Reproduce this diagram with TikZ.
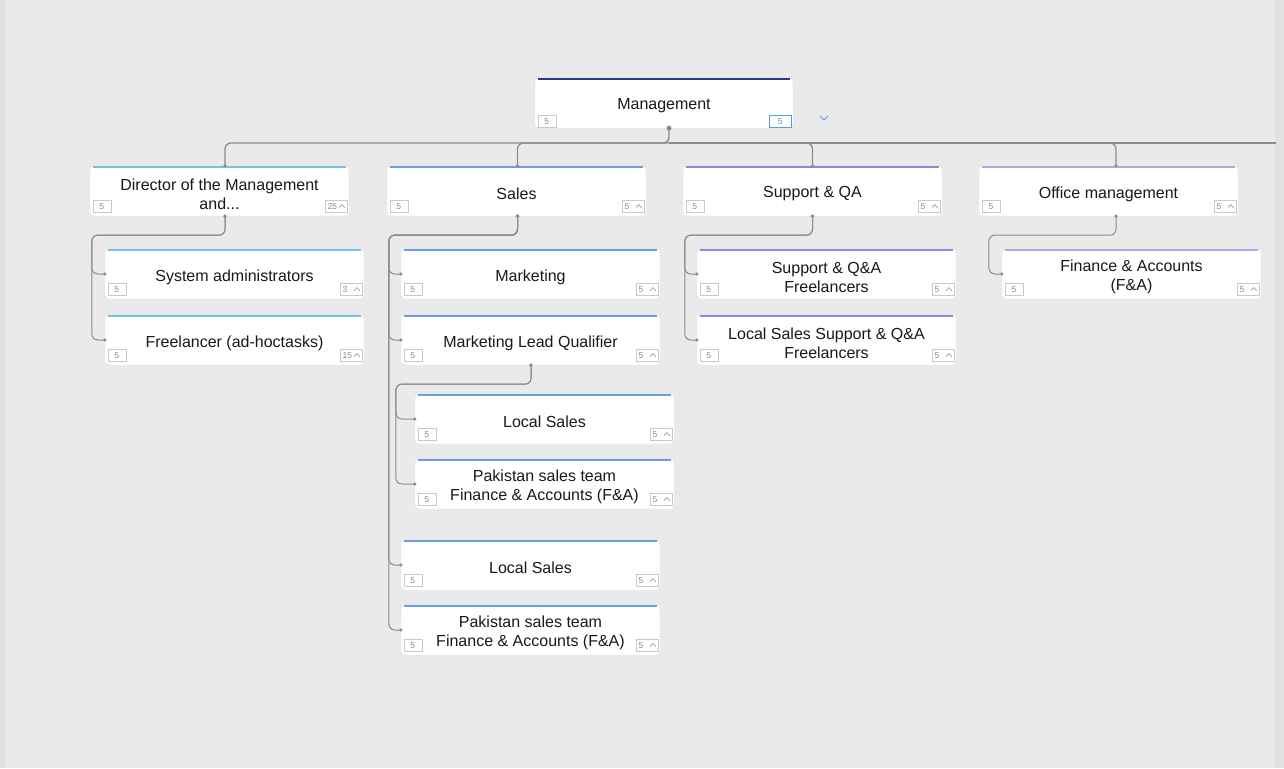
\documentclass[tikz,border=0pt]{standalone}
\usepackage{fontspec}
\setmainfont{Liberation Sans}
\usetikzlibrary{calc}
\definecolor{bg}{HTML}{EAEAEA}
\definecolor{strip}{HTML}{E2E2E2}
\definecolor{navy}{HTML}{2C3A86}
\definecolor{cdir}{HTML}{74C0E8}
\definecolor{csal}{HTML}{6A9FE3}
\definecolor{csup}{HTML}{8F86E0}
\definecolor{coff}{HTML}{B2A8E6}
\definecolor{lgray}{HTML}{8C8C8C}
\definecolor{cntb}{HTML}{C9C9C9}
\definecolor{cntt}{HTML}{8A8A8A}
\definecolor{cblue}{HTML}{5B9BE0}
\tikzset{
  card/.style={fill=white, draw=white!88!black, line width=0.3pt, rounded corners=4pt,
    minimum width=259pt, minimum height=50pt, inner sep=0pt},
  cardtext/.style={inner sep=0pt, align=center,
    font=\fontsize{16}{19}\selectfont, text=black!90},
  cnt/.style={draw=cntb, line width=0.5pt, minimum width=18pt, minimum height=12pt,
    inner sep=0pt, font=\fontsize{8.5}{9}\selectfont, text=cntt},
  cntr/.style={cnt, minimum width=22pt, text width=20pt, align=left},
  conn/.style={draw=lgray, line width=1pt, rounded corners=6pt},
  dotc/.style={fill=lgray},
}
\newcommand{\card}[6]{%
  \node[card] (#1) at ({#2+129.5},{#3+25}) {};
  \node[cardtext] (#1t) at ([yshift=-3pt]#1.center) {#5};
  \draw[#4, line width=2pt] ([xshift=3pt,yshift=-1pt]#1.north west) -- ([xshift=-3pt,yshift=-1pt]#1.north east);
  \node[cnt] (#1l) at ([xshift=12pt,yshift=10pt]#1.south west) {5};
  \node[cntr] (#1r) at ([xshift=-13pt,yshift=10pt]#1.south east) {\hspace{1.5pt}#6};
  \draw[cntt, line width=0.6pt] ([xshift=-8.5pt,yshift=-1.5pt]#1r.east) -- ([xshift=-5.5pt,yshift=1.5pt]#1r.east) -- ([xshift=-2.5pt,yshift=-1.5pt]#1r.east);
}
\newcommand{\dotat}[1]{\fill[dotc] (#1) circle (1.8pt);}
\begin{document}
\begin{tikzpicture}[x=1pt,y=-1pt]
\fill[bg] (0,0) rectangle (1284,768);
\fill[strip] (0,0) rectangle (5,768);
\fill[bg!96!black] (1275,0) rectangle (1284,768);
\useasboundingbox (0,0) rectangle (1284,768);

% Management
\node[card, minimum width=258pt] (mg) at (664,103) {};
\node[cardtext] (mgt) at ([yshift=-3pt]mg.center) {Management};
\draw[navy, line width=2pt] ([xshift=3pt,yshift=-1pt]mg.north west) -- ([xshift=-3pt,yshift=-1pt]mg.north east);
\node[cnt] (mgl) at ([xshift=12pt,yshift=7pt]mg.south west) {5};
\node[cnt, draw=cblue, minimum width=22pt, text=cblue!70!gray] (mgr) at ([xshift=-13pt,yshift=7pt]mg.south east) {5\hspace{10pt}};
\draw[cblue, line width=0.8pt] (820,116) -- (824,120) -- (828,116);

% level 1
\card{dir}{90}{166}{cdir}{Director of the Management\\and...}{25}
\card{sal}{387}{166}{csal}{Sales}{5}
\card{sup}{683}{166}{csup}{Support \& QA}{5}
\card{off}{979}{166}{coff}{Office management}{5}

% level 2
\card{sys}{105}{249}{cdir}{System administrators}{3}
\card{fre}{105}{315}{cdir}{Freelancer (ad-hoctasks)}{15}
\card{mkt}{401}{249}{csal}{Marketing}{5}
\card{mlq}{401}{315}{csal}{Marketing Lead Qualifier}{5}
\card{lsa}{415}{394}{csal}{Local Sales}{5}
\card{pka}{415}{459}{csal}{Pakistan sales team\\Finance \& Accounts (F\&A)}{5}
\card{lsb}{401}{540}{csal}{Local Sales}{5}
\card{pkb}{401}{605}{csal}{Pakistan sales team\\Finance \& Accounts (F\&A)}{5}
\card{sqa}{697}{249}{csup}{Support \& Q\&A\\Freelancers}{5}
\card{lss}{697}{315}{csup}{Local Sales Support \& Q\&A\\Freelancers}{5}
\card{fin}{1002}{249}{coff}{Finance \& Accounts\\(F\&A)}{5}

% connection points
\coordinate (mgB) at ([xshift=5pt]mg.south);
\foreach \n/\s in {dir/5.5, sal/1, sup/0, off/7.5, mlq/0.5} {
  \coordinate (\n T) at ([xshift=\s pt]\n.north);
  \coordinate (\n B) at ([xshift=\s pt]\n.south);
}

% main bus
\coordinate (bus) at (669,143);
\coordinate (busend) at (1276,143);
\draw[conn, line width=1.3pt] (mgB) -- (bus) -| (dirT);
\draw[conn, line width=1.3pt] (bus) -| (salT);
\draw[conn, line width=1.3pt] (bus) -| (supT);
\draw[conn, line width=1.3pt] (bus) -| (offT);
\draw[conn, line width=1.3pt] (bus) -- (busend);
\fill[dotc] (mgB) circle (2.5pt);
\foreach \n in {dir,sal,sup,off} {\dotat{\n T}}

% children connectors
\foreach \p/\c/\o in {dir/sys/13, dir/fre/13, sal/mkt/12, sal/mlq/12, sal/lsb/12, sal/pkb/12,
  mlq/lsa/19, mlq/pka/19, sup/sqa/12, sup/lss/12, off/fin/13} {
  \draw[conn] (\p B) -- ++(0,19) -| ([xshift=-\o pt]\c.west) -- (\c.west);
  \dotat{\c.west}
  \dotat{\p B}
}
\end{tikzpicture}
\end{document}
